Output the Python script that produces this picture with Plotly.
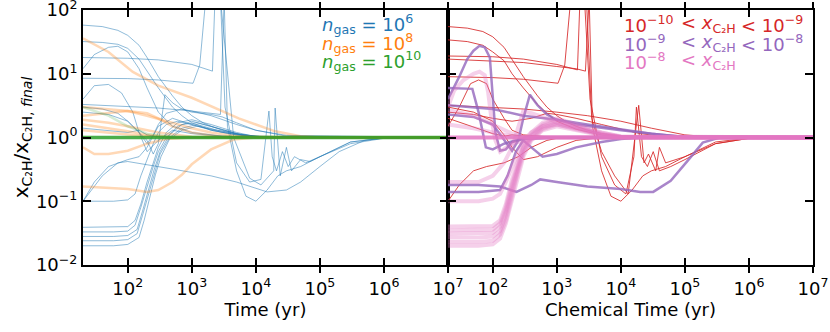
import numpy as np
import plotly.graph_objects as go

# --- left panel: ratio vs time, coloured by gas density ---
blue_curves = [
    ([20, 40, 70, 100, 150, 200, 300, 500, 700, 1000, 1500, 2000, 3000, 5000, 1e4, 1e5, 1e7],
     [58, 55, 48, 40, 28, 18, 9, 4.5, 3, 2.2, 1.7, 1.5, 1.3, 1.15, 1.05, 1, 1]),
    ([20, 40, 70, 100, 150, 200, 300, 500, 700, 1000, 2000, 5000, 1e4, 1e5, 1e7],
     [32, 31, 29, 25, 17, 11, 6, 3, 2.2, 1.7, 1.3, 1.1, 1.03, 1, 1]),
    ([20, 30, 50, 70, 100, 150, 200, 300, 500, 1000, 3000, 1e4, 1e7],
     [12, 20, 26, 27, 22, 12, 6, 2.5, 1.5, 1.2, 1.05, 1, 1]),
    ([20, 100, 300, 1000, 2100, 2300, 2800, 3300, 5000, 8000, 1.2e4, 1.6e4, 1.8e4, 2.1e4, 2.6e4, 3.2e4, 4e4, 6e4, 1e5, 3e5, 1e6, 1e7],
     [18, 17.5, 16.5, 14, 11, 150, 150, 3, 0.4, 0.2, 0.22, 2.6, 0.5, 0.3, 0.6, 0.35, 0.5, 0.4, 0.5, 0.85, 0.98, 1]),
    ([20, 100, 300, 1045, 1330, 1650, 2800, 4500, 8000, 1.2e4, 1.9e4, 2e4, 2.4e4, 3e4, 3.6e4, 5e4, 7e4, 1e5, 3e5, 1e6, 1e7],
     [8.5, 8.4, 8, 7.1, 13.7, 150, 150, 1, 0.23, 0.18, 0.3, 2.9, 0.25, 0.7, 0.3, 0.45, 0.42, 0.5, 0.85, 0.98, 1]),
    ([20, 100, 300, 1000, 2000, 2800, 3200, 3600, 5000, 7000, 1e4, 1.5e4, 2.2e4, 3e4, 5e4, 1e5, 3e5, 1e6, 1e7],
     [3.3, 3.1, 2.9, 2.6, 2.4, 2.3, 150, 1.5, 0.3, 0.12, 0.1, 0.15, 0.25, 0.3, 0.35, 0.5, 0.8, 0.97, 1]),
    ([20, 30, 50, 80, 120, 150, 200, 300, 500, 1000, 3000, 1e4, 1e7],
     [4, 6.5, 6.8, 5, 2.5, 1.2, 0.6, 0.9, 1.3, 1.15, 1.05, 1, 1]),
    ([20, 40, 70, 100, 150, 200, 250, 300, 400, 700, 1000, 2000, 5000, 1e4, 3e4, 1e7],
     [3, 2.8, 2.4, 1.8, 1.2, 0.8, 1.1, 1.6, 2.4, 2.8, 2.6, 2.2, 1.6, 1.3, 1.08, 1]),
    ([20, 50, 100, 150, 200, 250, 300, 380, 500, 700, 1000, 2000, 3000, 5000, 1e4, 3e4, 1e7],
     [2.5, 2.3, 1.8, 1.2, 0.9, 0.55, 0.8, 4.7, 3.5, 2.8, 2.5, 2.3, 2.1, 1.7, 1.3, 1.05, 1]),
    ([20, 40, 70, 100, 500, 2000, 5000, 1e4, 1.5e4, 3e4, 5e4, 1e5, 2e5, 5e5, 1e6, 1e7],
     [0.1, 0.25, 0.4, 0.42, 0.32, 0.25, 0.2, 0.16, 0.14, 0.15, 0.2, 0.35, 0.6, 0.9, 0.98, 1]),
    ([20, 60, 100, 130, 160, 200, 250, 300, 400, 600, 1000, 2000, 5000, 1e4, 1e7],
     [0.1, 0.1, 0.105, 0.13, 0.25, 0.45, 0.8, 1.2, 1.6, 1.8, 1.6, 1.3, 1.1, 1.02, 1]),
    ([20, 30, 50, 70, 100, 150, 200, 300, 500, 1000, 3000, 1e4, 1e7],
     [0.1, 0.2, 0.35, 0.4, 0.45, 0.5, 0.7, 1.5, 2, 1.6, 1.2, 1.02, 1]),
    ([20, 60, 100, 130, 160, 200, 250, 300, 400, 600, 1000, 2000, 5000, 1e4, 1e7],
     [0.039, 0.039, 0.04, 0.05, 0.09, 0.2, 0.4, 0.7, 1.2, 1.7, 1.9, 1.6, 1.2, 1.03, 1]),
    ([20, 60, 100, 130, 160, 200, 250, 300, 400, 600, 1000, 2000, 5000, 1e4, 1e7],
     [0.033, 0.033, 0.034, 0.042, 0.08, 0.17, 0.35, 0.6, 1.0, 1.5, 1.8, 1.5, 1.15, 1.02, 1]),
    ([20, 60, 100, 140, 170, 210, 260, 320, 450, 700, 1200, 2500, 6000, 1.5e4, 1e7],
     [0.028, 0.028, 0.029, 0.036, 0.07, 0.15, 0.32, 0.6, 1.1, 1.6, 1.7, 1.4, 1.1, 1.02, 1]),
    ([20, 60, 100, 140, 170, 210, 260, 320, 450, 700, 1200, 2500, 6000, 1.5e4, 1e7],
     [0.024, 0.024, 0.025, 0.031, 0.06, 0.13, 0.28, 0.55, 1.0, 1.4, 1.6, 1.3, 1.1, 1.01, 1]),
    ([20, 60, 100, 150, 180, 220, 270, 330, 450, 700, 1200, 2500, 6000, 1.5e4, 1e7],
     [0.02, 0.02, 0.021, 0.027, 0.05, 0.12, 0.26, 0.5, 0.95, 1.3, 1.5, 1.3, 1.1, 1.01, 1]),
    ([20, 50, 100, 150, 200, 300, 500, 1e7],
     [1.4, 1.3, 1.2, 1.3, 1.1, 1.02, 1, 1]),
]

orange_curves = [
    ([20, 50, 120, 300, 1000, 3000, 5400, 1e4, 2e4, 5e4, 1e5, 1e7],
     [36, 22, 10.7, 6.5, 4.2, 2.6, 2, 1.6, 1.25, 1.05, 1, 1]),
    ([20, 50, 100, 200, 500, 1000, 2000, 5000, 1e4, 1e7],
     [3.0, 2.8, 2.6, 2.2, 1.7, 1.4, 1.2, 1.05, 1, 1]),
    ([20, 30, 50, 100, 200, 400, 1000, 1e7],
     [0.7, 0.55, 0.55, 0.62, 0.8, 0.95, 1, 1]),
    ([20, 50, 100, 200, 300, 500, 700, 1000, 2000, 4500, 1e4, 1e7],
     [0.17, 0.16, 0.155, 0.14, 0.15, 0.2, 0.26, 0.38, 0.65, 0.93, 1, 1]),
    ([20, 50, 100, 200, 500, 1000, 1e7],
     [1.6, 1.4, 1.25, 1.1, 1.02, 1, 1]),
    ([20, 50, 100, 200, 500, 1e7],
     [1.3, 1.2, 1.12, 1.05, 1, 1]),
    ([20, 50, 100, 200, 300, 500, 1000, 3000, 1e7],
     [2.2, 2.4, 2.6, 2.4, 2, 1.5, 1.2, 1.02, 1]),
    ([20, 50, 100, 300, 1000, 1e7],
     [1.9, 1.7, 1.5, 1.2, 1.03, 1]),
]

green_curves = [
    ([20, 50, 100, 200, 500, 1e7], [3.0, 2.2, 1.5, 1.15, 1.02, 1]),
    ([20, 1e7], [1, 1]),
]

# --- right panel: ratio vs chemical time, coloured by abundance ---
red_curves = [
    ([20, 40, 70, 100, 150, 200, 300, 500, 700, 1000, 1500, 2000, 3000, 5000, 1e4, 1e5, 1e7],
     [55, 52, 46, 38, 26, 17, 9, 4.5, 3, 2.2, 1.7, 1.5, 1.3, 1.15, 1.05, 1, 1]),
    ([20, 40, 70, 100, 150, 200, 300, 500, 700, 1000, 2000, 5000, 1e4, 1e5, 1e7],
     [34, 32, 28, 22, 16, 10, 6, 3.3, 2.4, 1.8, 1.35, 1.1, 1.03, 1, 1]),
    ([20, 100, 300, 1000, 2100, 2300, 2700, 3300, 5000, 8000, 1.2e4, 1.6e4, 1.75e4, 2.1e4, 2.6e4, 3.2e4, 4e4, 6e4, 1e5, 3e5, 1e6, 1e7],
     [19, 18.5, 17, 14, 11.5, 150, 150, 4, 0.5, 0.18, 0.13, 0.5, 3, 0.5, 0.35, 0.6, 0.3, 0.35, 0.45, 0.8, 0.97, 1]),
    ([20, 100, 300, 1045, 1330, 1650, 2900, 3500, 5000, 8000, 1.3e4, 1.9e4, 2.3e4, 2.7e4, 3.5e4, 4e4, 5e4, 7e4, 1e5, 3e5, 1e6, 1e7],
     [9, 8.7, 8.2, 7.1, 13.7, 150, 150, 2, 0.6, 0.25, 0.13, 3.2, 0.4, 0.55, 0.3, 0.7, 0.4, 0.45, 0.5, 0.85, 0.98, 1]),
    ([20, 100, 300, 1000, 2000, 2800, 3200, 3600, 5000, 7000, 1e4, 1.5e4, 2.2e4, 3e4, 5e4, 1e5, 3e5, 1e6, 1e7],
     [17, 16, 15, 13, 12, 11, 150, 1.5, 0.3, 0.12, 0.1, 0.15, 0.25, 0.3, 0.35, 0.5, 0.8, 0.97, 1]),
    ([20, 100, 300, 1000, 3000, 1e4, 3e4, 1e5, 3e5, 1e7],
     [3.2, 3, 2.8, 2.5, 2.2, 1.8, 1.4, 1.1, 1.01, 1]),
    ([20, 50, 100, 200, 400, 700, 1000, 2000, 5000, 1e4, 2e4, 5e4, 1e5, 1e7],
     [2.5, 2.3, 2, 1.8, 2, 2.4, 2.3, 2, 1.6, 1.35, 1.15, 1.03, 1, 1]),
    ([20, 40, 70, 100, 150, 200, 300, 500, 1000, 1e7],
     [2, 1.6, 1.3, 1.15, 1.05, 1.1, 1.05, 1, 1, 1]),
    ([20, 30, 50, 80, 150, 250, 400, 700, 1000, 3000, 1e7],
     [0.1, 0.18, 0.3, 0.35, 0.4, 0.5, 0.7, 0.9, 0.97, 1, 1]),
    ([20, 50, 100, 150, 200, 300, 500, 1000, 2000, 5000, 1e7],
     [3, 2.5, 1.8, 1.1, 0.7, 0.45, 0.5, 0.7, 0.9, 1, 1]),
    ([20, 30, 45, 60, 80, 100, 150, 200, 300, 1000, 1e7],
     [1.5, 3, 7, 8, 7, 4, 2, 1.3, 1.1, 1, 1]),
]

purple_curves = [
    ([20, 30, 40, 50, 62, 75, 90, 100, 110, 130, 160, 200, 300, 1000, 1e7],
     [4, 9, 17, 23, 27.5, 26, 18, 5, 1.2, 0.62, 0.65, 0.85, 0.95, 1, 1]),
    ([20, 48, 60, 78, 100, 150, 300, 1000, 1e7],
     [6, 5.8, 2.5, 0.7, 0.65, 0.8, 0.97, 1, 1]),
    ([20, 50, 100, 150, 200, 250, 300, 380, 500, 700, 1000, 2000, 5000, 1e4, 3e4, 1e5, 1e7],
     [2.3, 2.1, 1.6, 0.9, 0.62, 0.9, 2, 4.7, 3.2, 2.3, 1.9, 1.6, 1.4, 1.3, 1.15, 1.02, 1]),
    ([20, 60, 130, 235, 400, 550, 1000, 3000, 1e4, 2e4, 3.2e4, 6e4, 1.1e5, 1.9e5, 3.5e5, 1e7],
     [0.18, 0.18, 0.17, 0.14, 0.18, 0.22, 0.2, 0.17, 0.155, 0.14, 0.14, 0.21, 0.43, 0.83, 1, 1]),
    ([20, 60, 130, 170, 230, 300, 400, 600, 1000, 2000, 5000, 1e4, 2e4, 1e7],
     [0.14, 0.14, 0.15, 0.25, 0.6, 0.9, 0.7, 0.5, 0.55, 0.7, 0.85, 0.95, 1, 1]),
    ([20, 100, 300, 1000, 3000, 1e4, 3e4, 1e5, 1e7],
     [3.2, 2.8, 2.2, 1.9, 1.6, 1.35, 1.15, 1.02, 1]),
]

pink_t = [20, 60, 100, 130, 160, 200, 250, 300, 400, 600, 1000, 2000, 5000, 1e4, 1e7]
pink_curves = [
    ([20, 25, 35, 50, 62, 75, 85, 95, 110, 130, 200, 500, 1e7],
     [3, 5.5, 8, 10, 10.8, 9.5, 5, 2, 0.9, 0.6, 0.8, 1, 1]),
    (pink_t, [0.1, 0.1, 0.11, 0.13, 0.2, 0.35, 0.6, 0.9, 1.2, 1.5, 1.6, 1.4, 1.1, 1.02, 1]),
    (pink_t, [0.04, 0.04, 0.041, 0.05, 0.09, 0.22, 0.45, 0.75, 1.2, 1.7, 2, 1.6, 1.2, 1.03, 1]),
    (pink_t, [0.035, 0.035, 0.036, 0.045, 0.08, 0.19, 0.4, 0.7, 1.1, 1.6, 1.9, 1.5, 1.15, 1.02, 1]),
    (pink_t, [0.031, 0.031, 0.032, 0.04, 0.07, 0.17, 0.36, 0.65, 1.05, 1.5, 1.8, 1.5, 1.12, 1.02, 1]),
    (pink_t, [0.027, 0.027, 0.028, 0.034, 0.06, 0.15, 0.33, 0.6, 1.0, 1.4, 1.7, 1.4, 1.1, 1.01, 1]),
    (pink_t, [0.023, 0.023, 0.024, 0.03, 0.05, 0.13, 0.3, 0.55, 0.95, 1.35, 1.6, 1.35, 1.1, 1.01, 1]),
    (pink_t, [0.02, 0.02, 0.021, 0.026, 0.045, 0.11, 0.27, 0.5, 0.9, 1.3, 1.5, 1.3, 1.08, 1.01, 1]),
    ([20, 60, 100, 150, 200, 250, 300, 400, 700, 1000, 3000, 1e4, 1e7],
     [0.2, 0.2, 0.25, 0.4, 0.7, 1.5, 2.6, 2.4, 2, 1.7, 1.3, 1.05, 1]),
    ([20, 50, 100, 200, 500, 1e7], [1.6, 1.4, 1.2, 1.05, 1, 1]),
    ([20, 50, 100, 200, 300, 1e7], [2.7, 2.2, 1.6, 1.15, 1.02, 1]),
]
pink_flat = ([20, 1e7], [1, 1])

y_tickvals = [0.01, 0.1, 1, 10, 100]
y_ticktext = ["10<sup>−2</sup>", "10<sup>−1</sup>", "10<sup>0</sup>", "10<sup>1</sup>", "10<sup>2</sup>"]
x_tickvals = [1e2, 1e3, 1e4, 1e5, 1e6, 1e7]
x_ticktext = ["10<sup>2</sup>", "10<sup>3</sup>", "10<sup>4</sup>", "10<sup>5</sup>", "10<sup>6</sup>", "10<sup>7</sup>"]

FONT = "DejaVu Sans"
fig = go.Figure()


def add(curves, color, width, xa, ya):
    for t, v in curves:
        fig.add_trace(go.Scatter(x=t, y=v, mode="lines", xaxis=xa, yaxis=ya,
                                 line=dict(color=color, width=width), showlegend=False,
                                 hoverinfo="skip"))


add(blue_curves, "rgba(31,119,180,0.5)", 1, "x", "y")
add(orange_curves, "rgba(255,127,14,0.3)", 2.5, "x", "y")
add(green_curves[:1], "rgba(44,160,44,0.2)", 2.5, "x", "y")
add(green_curves[1:], "rgba(44,160,44,0.85)", 3.5, "x", "y")

add(red_curves, "rgba(214,39,40,0.85)", 1, "x2", "y2")
add(purple_curves, "rgba(148,103,189,0.8)", 2.5, "x2", "y2")
add(pink_curves, "rgba(227,119,194,0.35)", 4, "x2", "y2")
add([pink_flat], "rgba(227,119,194,0.85)", 4, "x2", "y2")

xr = [np.log10(20), 7.0001]
xbase = dict(type="log", range=xr, showgrid=False, zeroline=False, showline=True,
             linecolor="black", linewidth=2, mirror="ticks", ticks="outside", ticklen=6,
             tickwidth=2, tickcolor="black", tickvals=x_tickvals, ticktext=x_ticktext,
             automargin=False, ticklabeloverflow="allow",
             tickfont=dict(size=18, color="black", family=FONT))
xin = dict(type="log", range=xr, showgrid=False, zeroline=False, showline=False,
           ticks="inside", ticklen=7, tickwidth=2, tickcolor="black", mirror="ticks",
           tickvals=x_tickvals, showticklabels=False, automargin=False)
ybase = dict(type="log", range=[-2.0005, 2.0005], showgrid=False, zeroline=False,
             showline=True, linecolor="black", linewidth=2, mirror="ticks",
             ticks="inside", ticklen=8, tickwidth=2, tickcolor="black",
             tickvals=y_tickvals, ticktext=y_ticktext, automargin=False,
             ticklabeloverflow="allow",
             tickfont=dict(size=18, color="black", family=FONT))

fig.update_layout(
    width=830, height=332, margin=dict(l=83, r=17, t=10, b=67),
    plot_bgcolor="white", paper_bgcolor="white",
    font=dict(family=FONT, size=18, color="black"),
    xaxis=dict(xbase, domain=[0, 0.5], anchor="y",
               title=dict(text="Time (yr)", font=dict(size=18), standoff=4)),
    xaxis2=dict(xbase, domain=[0.5, 1], anchor="y2",
                title=dict(text="Chemical Time (yr)", font=dict(size=18), standoff=4)),
    xaxis3=dict(xin, domain=[0, 0.5], anchor="y", overlaying="x"),
    xaxis4=dict(xin, domain=[0.5, 1], anchor="y2", overlaying="x2"),
    yaxis=dict(ybase, domain=[0, 1], anchor="x",
               title=dict(text="x<sub>C₂H</sub>/x<sub>C₂H, <i>final</i></sub>",
                          font=dict(size=20), standoff=2)),
    yaxis2=dict(ybase, domain=[0, 1], anchor="x2", matches="y", showticklabels=False),
)

# dummy traces so overlay axes are drawn
fig.add_trace(go.Scatter(x=[20], y=[1], xaxis="x3", yaxis="y", mode="markers",
                         marker=dict(opacity=0), showlegend=False, hoverinfo="skip"))
fig.add_trace(go.Scatter(x=[20], y=[1], xaxis="x4", yaxis="y2", mode="markers",
                         marker=dict(opacity=0), showlegend=False, hoverinfo="skip"))

# density labels (left)
dens_labels = ["10<sup>6</sup>", "10<sup>8</sup>", "10<sup>10</sup>"]
dens_colors = ["#1f77b4", "#ff7f0e", "#2ca02c"]
line_y = [0.945, 0.872, 0.799]
for lab, col, yy in zip(dens_labels, dens_colors, line_y):
    fig.add_annotation(xref="paper", yref="paper", x=0.3247, y=yy, xanchor="left",
                       yanchor="middle", showarrow=False,
                       text="<i>n</i><sub>gas</sub> = " + lab,
                       font=dict(size=18, color=col, family=FONT))

# abundance labels (right)
ab_lo = ["10<sup>−10</sup>", "10<sup>−9</sup>", "10<sup>−8</sup>"]
ab_hi = ["&lt; 10<sup>−9</sup>", "&lt; 10<sup>−8</sup>", ""]
ab_colors = ["#d62728", "#9467bd", "#e377c2"]
for lo, hi, col, yy in zip(ab_lo, ab_hi, ab_colors, line_y):
    fig.add_annotation(xref="paper", yref="paper", x=0.738, y=yy, xanchor="left",
                       yanchor="middle", showarrow=False, text=lo,
                       font=dict(size=18, color=col, family=FONT))
    fig.add_annotation(xref="paper", yref="paper", x=0.817, y=yy, xanchor="left",
                       yanchor="middle", showarrow=False,
                       text="&lt; <i>x</i><sub>C₂H</sub>",
                       font=dict(size=18, color=col, family=FONT))
    if hi:
        fig.add_annotation(xref="paper", yref="paper", x=0.898, y=yy, xanchor="left",
                           yanchor="middle", showarrow=False, text=hi,
                           font=dict(size=18, color=col, family=FONT))

# drop the default page margin so the figure sits at the window origin
fig.write_html("out.html", config={"displayModeBar": False},
               post_script="document.body.style.margin='0';")
